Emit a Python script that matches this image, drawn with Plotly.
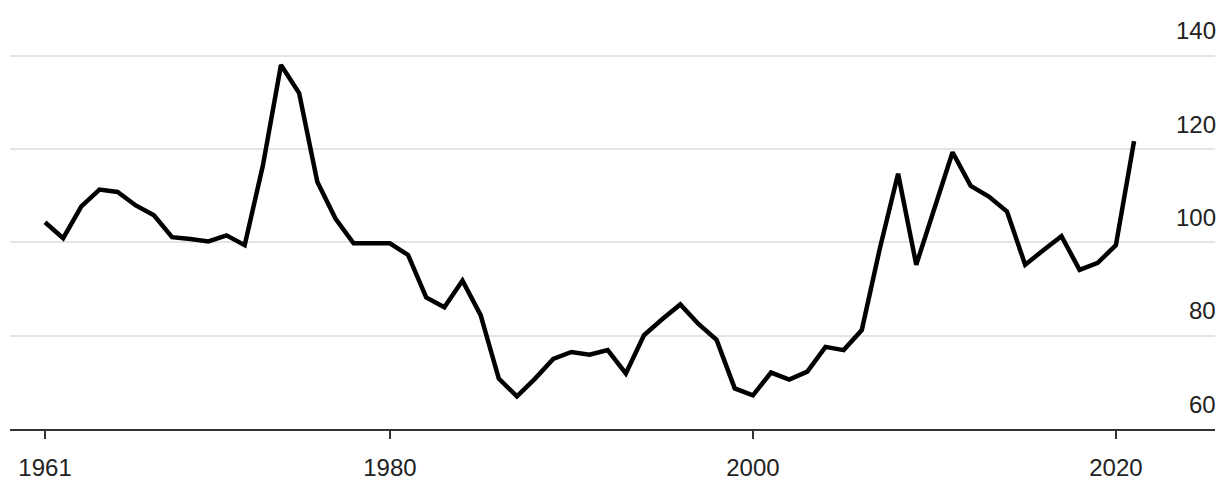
import plotly.graph_objects as go

# Annual index values, 1961-2021
years = list(range(1961, 2022))
values = [
    104.3, 100.9, 107.7, 111.3, 110.8, 107.9, 105.8, 101.1, 100.7, 100.2,
    101.5, 99.4, 116.4, 138.0, 132.0, 113.0, 105.1, 99.8, 99.8, 99.8,
    97.3, 88.2, 86.1, 91.8, 84.4, 70.8, 67.0, 70.8, 75.0, 76.5,
    75.9, 76.9, 71.9, 80.1, 83.5, 86.7, 82.5, 79.1, 68.7, 67.2,
    72.1, 70.6, 72.3, 77.6, 76.9, 81.2, 98.8, 114.7, 95.2, 107.2,
    119.3, 112.1, 109.8, 106.6, 95.2, 98.3, 101.3, 94.1, 95.6, 99.4,
    121.7,
]

x_ticks = [1961, 1980, 2000, 2020]
y_ticks = [60, 80, 100, 120, 140]

font_family = "Liberation Sans, Arial, Helvetica, sans-serif"
text_color = "#222222"

fig = go.Figure(
    go.Scatter(
        x=years,
        y=values,
        mode="lines",
        line=dict(color="#000000", width=4.5),
        hoverinfo="skip",
    )
)

# Value labels sit above their gridlines, right-aligned at the plot edge
for v in y_ticks:
    fig.add_annotation(
        x=1,
        xref="paper",
        xanchor="right",
        xshift=3,
        y=v,
        yref="y",
        yanchor="middle",
        yshift=25,
        text=str(v),
        showarrow=False,
        font=dict(family=font_family, size=24, color=text_color),
    )

fig.update_layout(
    width=1220,
    height=486,
    margin=dict(l=10, r=5, t=51, b=54),
    paper_bgcolor="#ffffff",
    plot_bgcolor="#ffffff",
    showlegend=False,
    font=dict(family=font_family, size=22, color=text_color),
)

fig.update_xaxes(
    range=[1959.07, 2025.46],
    tickvals=x_ticks,
    ticktext=[str(t) for t in x_ticks],
    showgrid=False,
    zeroline=False,
    showline=True,
    linecolor="#333333",
    linewidth=2,
    ticks="outside",
    ticklen=8,
    tickwidth=2,
    tickcolor="#333333",
    ticklabelstandoff=8,
    tickfont=dict(size=24, color=text_color),
)

fig.update_yaxes(
    range=[60, 141],
    side="right",
    tickvals=y_ticks,
    showticklabels=False,
    showgrid=True,
    gridcolor="#e4e4e4",
    gridwidth=2,
    zeroline=False,
    showline=False,
    ticks="",
)

fig.write_html("out.html")
